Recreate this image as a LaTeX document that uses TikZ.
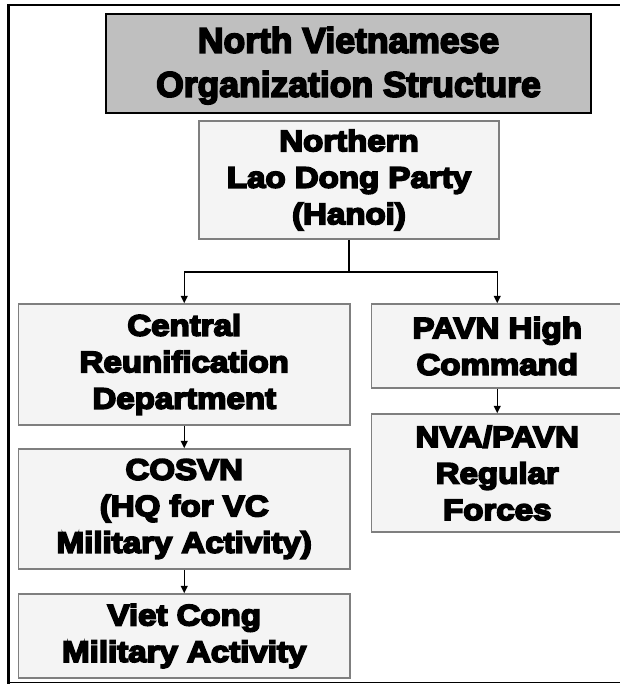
\documentclass[tikz,border=0pt]{standalone}
\usepackage{fontspec}
\usetikzlibrary{arrows.meta}
\newfontfamily\blk{Liberation Sans Bold}[FakeStretch=1.12,FakeBold=6]
\newfontfamily\ttl{Liberation Sans Bold}[FakeBold=5]
\definecolor{titlefill}{HTML}{BFBFBF}
\definecolor{boxfill}{HTML}{F4F4F4}
\definecolor{boxline}{HTML}{7F7F7F}
\definecolor{baseline}{HTML}{E6E6E6}
\tikzset{
  orgbox/.style={draw=boxline, line width=1.5bp, fill=boxfill, inner sep=0pt, align=center,
    font=\blk\fontsize{29.5bp}{36.5bp}\selectfont},
  titlebox/.style={draw=black, line width=2bp, fill=titlefill, inner sep=0pt, align=center,
    font=\ttl\fontsize{35.5bp}{44bp}\selectfont},
  link/.style={line width=1.5bp, draw=black},
  arr/.style={link, -{Triangle[length=7.5bp,width=7bp]}}
}
\begin{document}
\begin{tikzpicture}[x=1bp,y=-1bp]
\useasboundingbox (0,0) rectangle (620,684);
\clip (0,0) rectangle (620,684);
% frame
\draw[line width=2bp] (8.5,5) -- (625,5);
\draw[line width=3bp] (8.5,4) -- (8.5,690);
\draw[baseline, line width=1bp] (10,682.5) -- (625,682.5);
% nodes
\node[titlebox, minimum width=485bp, minimum height=99bp] (title) at (348.5,63.5)
  {\rule{0pt}{30bp}North Vietnamese\\Organization Structure};
\node[orgbox, minimum width=300bp, minimum height=118bp] (nld) at (349,180)
  {Northern\\Lao Dong Party\\(Hanoi)};
\node[orgbox, minimum width=331.5bp, minimum height=121bp] (crd) at (184.25,364.5)
  {Central\\Reunification\\Department};
\node[orgbox, minimum width=331.5bp, minimum height=120bp] (cos) at (184.25,509)
  {COSVN\\(HQ for VC\\Military Activity)};
\node[orgbox, minimum width=331.5bp, minimum height=84bp] (vc) at (184.25,636)
  {Viet Cong\\Military Activity};
\node[orgbox, minimum width=251.5bp, minimum height=84bp] (pav) at (497.25,346)
  {PAVN High\\Command};
\node[orgbox, minimum width=251.5bp, minimum height=118bp] (nva) at (497.25,473)
  {NVA/PAVN\\Regular\\Forces};
% connectors
\coordinate (j) at (349,272);
\draw[link] (nld.south) -- (j);
\draw[arr] (j) -| (crd.north);
\draw[arr] (j) -| (pav.north);
\draw[arr] (crd.south) -- (cos.north);
\draw[arr] (cos.south) -- (vc.north);
\draw[arr] (pav.south) -- (nva.north);
\end{tikzpicture}
\end{document}
